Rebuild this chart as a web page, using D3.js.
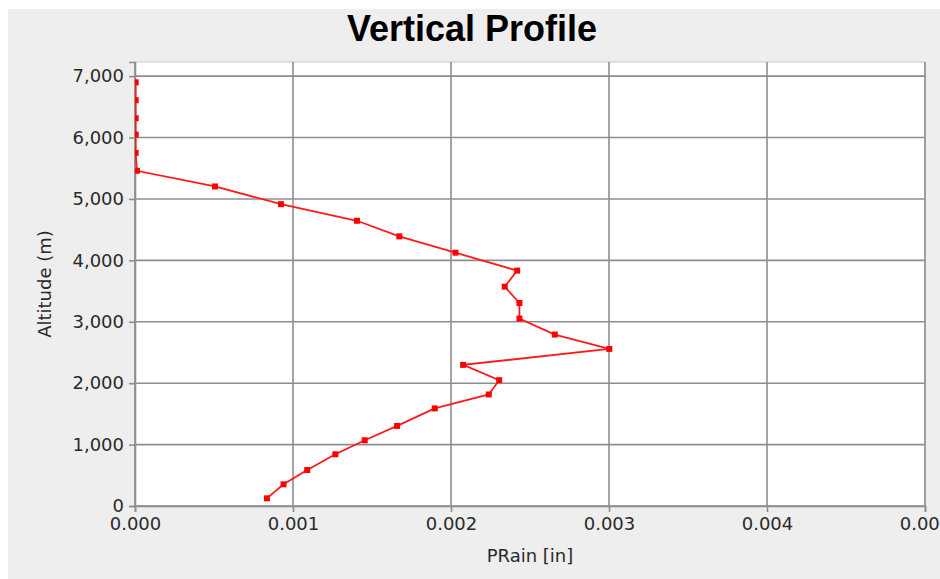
<!DOCTYPE html>
<html>
<head>
  <title>Vertical Profile</title>
  <script src="https://d3js.org/d3.v7.min.js"></script>
  <style>
    body { margin: 0; background: #ffffff; }
    svg { display: block; }
  </style>
</head>
<body>
  <div id="chart"></div>

  <script>
    // altitude in metres, bottom to top
    var altitude = [125, 353, 585, 842, 1070, 1304, 1589, 1816, 2049, 2298, 2558, 2792, 3052, 3306,
                    3572, 3833, 4125, 4390, 4645, 4915, 5203, 5459, 5751, 6049, 6314, 6607, 6899];
    // PRain in inches at each altitude
    var prain = [0.000835, 0.000940, 0.001090, 0.001268, 0.001454, 0.001659, 0.001897, 0.002239,
                 0.002305, 0.002077, 0.003002, 0.002657, 0.002433, 0.002433, 0.002340, 0.002419,
                 0.002028, 0.001673, 0.001405, 0.000924, 0.000506, 0.000012, 0.000004, 0.000004,
                 0.000004, 0.000004, 0.000004];
    var xTicks = [0, 0.001, 0.002, 0.003, 0.004, 0.005];
    var yTicks = [0, 1000, 2000, 3000, 4000, 5000, 6000, 7000];

    var data = altitude.map((a, i) => ({ alt: a, value: prain[i] }));

    var svg = d3.select("#chart")
                .append("svg")
                .attr("width", 940)
                .attr("height", 579);

    // grey panel behind everything
    svg.append("rect")
       .attr("x", 8).attr("y", 9)
       .attr("width", 932).attr("height", 570)
       .attr("fill", "#eeeeee");

    var plot = { left: 135, right: 925, top: 62, bottom: 506 };

    var xScale = d3.scaleLinear()
                   .domain([0, 0.005])
                   .range([plot.left, plot.right]);

    var yScale = d3.scaleLinear()
                   .domain([0, 7230])
                   .range([plot.bottom, plot.top]);

    svg.append("rect")
       .attr("x", plot.left).attr("y", plot.top)
       .attr("width", plot.right - plot.left)
       .attr("height", plot.bottom - plot.top)
       .attr("fill", "#ffffff")
       .attr("stroke", "#c8c8c8")
       .attr("stroke-width", 1);

    // gridlines
    svg.append("g")
       .selectAll("line")
       .data(xTicks)
       .enter()
       .append("line")
       .attr("x1", d => xScale(d)).attr("x2", d => xScale(d))
       .attr("y1", plot.top).attr("y2", plot.bottom)
       .attr("stroke", "#8e8e8e")
       .attr("stroke-width", 1.6);

    svg.append("g")
       .selectAll("line")
       .data(yTicks)
       .enter()
       .append("line")
       .attr("x1", plot.left).attr("x2", plot.right)
       .attr("y1", d => yScale(d)).attr("y2", d => yScale(d))
       .attr("stroke", "#8e8e8e")
       .attr("stroke-width", 1.6);

    // axes
    var xAxis = svg.append("g")
       .attr("transform", `translate(0, ${plot.bottom})`)
       .call(d3.axisBottom(xScale).tickValues(xTicks).tickFormat(d3.format(".3f")).tickSize(6).tickPadding(5));

    var yAxis = svg.append("g")
       .attr("transform", `translate(${plot.left}, 0)`)
       .call(d3.axisLeft(yScale).tickValues(yTicks).tickFormat(d3.format(",")).tickSize(6).tickPadding(5));

    [xAxis, yAxis].forEach(ax => {
      ax.select(".domain").attr("stroke", "#8e8e8e").attr("stroke-width", 1.6);
      ax.selectAll(".tick line").attr("stroke", "#8e8e8e").attr("stroke-width", 1.6);
      ax.selectAll(".tick text")
        .attr("fill", "#2a2a2a")
        .style("font-family", "DejaVu Sans, sans-serif")
        .style("font-size", "18px");
    });

    // series, clipped to the plot area
    svg.append("clipPath")
       .attr("id", "plotClip")
       .append("rect")
       .attr("x", plot.left).attr("y", plot.top)
       .attr("width", plot.right - plot.left)
       .attr("height", plot.bottom - plot.top);

    var series = svg.append("g").attr("clip-path", "url(#plotClip)");

    var line = d3.line()
                 .x(d => xScale(d.value))
                 .y(d => yScale(d.alt));

    series.append("path")
          .datum(data)
          .attr("fill", "none")
          .attr("stroke", "#ff1a1a")
          .attr("stroke-width", 1.8)
          .attr("d", line);

    series.selectAll("rect.marker")
          .data(data)
          .enter()
          .append("rect")
          .attr("class", "marker")
          .attr("x", d => xScale(d.value) - 3)
          .attr("y", d => yScale(d.alt) - 3)
          .attr("width", 6)
          .attr("height", 6)
          .attr("fill", "#ff0000");

    // titles
    svg.append("text")
       .attr("x", 472)
       .attr("y", 41)
       .style("text-anchor", "middle")
       .style("font-family", "Liberation Sans, Arial, sans-serif")
       .style("font-weight", "bold")
       .style("font-size", "36px")
       .attr("fill", "#000000")
       .text("Vertical Profile");

    svg.append("text")
       .attr("x", (plot.left + plot.right) / 2)
       .attr("y", 562)
       .style("text-anchor", "middle")
       .style("font-family", "DejaVu Sans, sans-serif")
       .style("font-size", "18px")
       .attr("fill", "#2a2a2a")
       .text("PRain [in]");

    svg.append("text")
       .attr("transform", "rotate(-90)")
       .attr("x", -(plot.top + plot.bottom) / 2)
       .attr("y", 51)
       .style("text-anchor", "middle")
       .style("font-family", "DejaVu Sans, sans-serif")
       .style("font-size", "18px")
       .attr("fill", "#2a2a2a")
       .text("Altitude (m)");
  </script>
</body>
</html>
